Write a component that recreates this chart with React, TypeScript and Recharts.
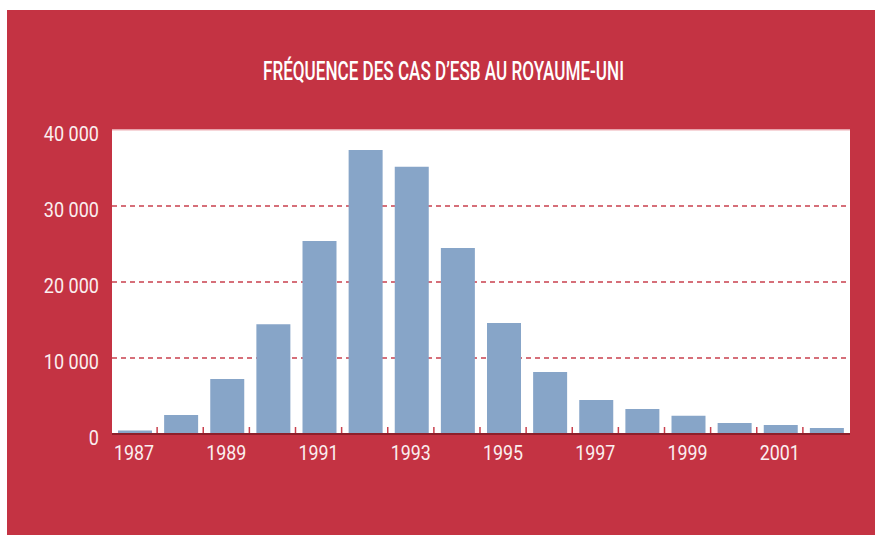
import React from 'react';
import { BarChart, Bar, XAxis, YAxis, CartesianGrid, ReferenceLine } from 'recharts';

const years = ['1987', '1988', '1989', '1990', '1991', '1992', '1993', '1994', '1995', '1996', '1997', '1998', '1999', '2000', '2001', '2002'];
const cases = [450, 2500, 7240, 14450, 25400, 37370, 35150, 24470, 14600, 8150, 4470, 3290, 2400, 1450, 1180, 800];
const yTicks = [0, 10000, 20000, 30000, 40000];
const gridValues = [10000, 20000, 30000];
const title = 'FRÉQUENCE DES CAS D’ESB AU ROYAUME-UNI';

const data = years.map((y, i) => ({ year: y, cases: cases[i] }));

const BG = '#c43343';
const BAR = '#87a5c8';
const LABEL = '#fbeff0';
const FONT = 'Roboto, sans-serif';

const fmt = (v: number) => String(v).replace(/\B(?=(\d{3})+(?!\d))/g, ' ');

const YTick = (props: any) => {
  const { x, y, payload } = props;
  return (
    <g transform={`translate(${x},${y + 11}) scale(0.86,1)`}>
      <text x={0} y={0} textAnchor="end" fill={LABEL} fontFamily={FONT} fontWeight={400} fontSize={21}>
        {fmt(payload.value)}
      </text>
    </g>
  );
};

const XTick = (props: any) => {
  const { x, y, payload, index, visibleTicksCount, width } = props;
  const half = width / visibleTicksCount / 2;
  return (
    <g>
      {index < visibleTicksCount - 1 && (
        <line x1={x + half - 1} x2={x + half - 1} y1={y - 1} y2={y - 7} stroke="#c9404d" strokeWidth={1.5} />
      )}
      {index % 2 === 0 && (
        <g transform={`translate(${x - 1},${y + 26}) scale(0.85,1)`}>
          <text x={0} y={0} textAnchor="middle" fill={LABEL} fontFamily={FONT} fontWeight={400} fontSize={21}>
            {payload.value}
          </text>
        </g>
      )}
    </g>
  );
};

export default function App() {
  return (
    <div style={{ position: 'absolute', left: 0, top: 0, width: 875, height: 535 }}>
      <div style={{ position: 'absolute', left: 7, top: 10, width: 868, height: 525, background: BG }} />
      <svg width={875} height={535} style={{ position: 'absolute', left: 0, top: 0 }}>
        <text
          x={443.5}
          y={79.5}
          textAnchor="middle"
          fill="#ffffff"
          fontFamily={FONT}
          fontWeight={500}
          fontSize={25}
          textLength={361}
          lengthAdjust="spacingAndGlyphs"
        >
          {title}
        </text>
      </svg>
      <div style={{ position: 'absolute', left: 0, top: 0 }}>
        <BarChart width={875} height={535} data={data} margin={{ top: 130, right: 25, bottom: 0, left: 0 }}>
          <CartesianGrid
            horizontalValues={gridValues}
            vertical={false}
            stroke="#c9404d"
            strokeDasharray="5 4"
            strokeWidth={1.3}
            fill="#ffffff"
            fillOpacity={1}
          />
          <YAxis
            width={112}
            domain={[0, 40000]}
            ticks={yTicks}
            interval={0}
            axisLine={false}
            tickLine={false}
            tickSize={0}
            tickMargin={13}
            tick={<YTick />}
          />
          <XAxis
            dataKey="year"
            height={101}
            interval={0}
            tickSize={0}
            tickMargin={0}
            tickLine={false}
            axisLine={{ stroke: '#8e1f2a', strokeWidth: 2 }}
            tick={<XTick />}
          />
          <ReferenceLine y={40000} stroke="#f3c9cd" strokeWidth={1.5} />
          <Bar dataKey="cases" fill={BAR} barSize={34} isAnimationActive={false} />
        </BarChart>
      </div>
    </div>
  );
}
